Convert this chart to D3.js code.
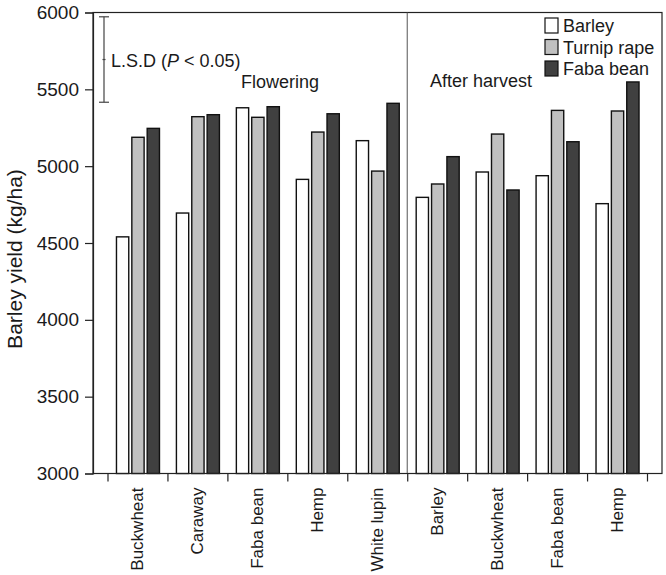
<!DOCTYPE html>
<html>
<head>
<meta charset="utf-8">
<script src="https://cdn.jsdelivr.net/npm/d3@7"></script>
<style>
  html, body { margin: 0; padding: 0; background: #fff; }
  svg { display: block; }
  text { font-family: Arial, "Liberation Sans", sans-serif; fill: #1a1a1a; }
</style>
</head>
<body>
<svg id="chart" width="666" height="575"></svg>
<script>
// ---- data ----
const categories = ["Buckwheat", "Caraway", "Faba bean", "Hemp", "White lupin",
                    "Barley", "Buckwheat", "Faba bean", "Hemp"];
const series = ["Barley", "Turnip rape", "Faba bean"];
const barleyValues = [4540, 4695, 5380, 4914, 5166, 4797, 4962, 4938, 4756];
const turnipValues = [5188, 5322, 5318, 5222, 4968, 4884, 5209, 5363, 5359];
const fabaValues   = [5246, 5335, 5387, 5341, 5409, 5062, 4845, 5159, 5548];
const yTicks = [3000, 3500, 4000, 4500, 5000, 5500, 6000];
const lsdRange = [5416, 5972];
const colors = ["#ffffff", "#c0c0c0", "#404040"];

const valuesBySeries = [barleyValues, turnipValues, fabaValues];

// ---- layout ----
const svg = d3.select("#chart");
const pLeft = 93, pRight = 662, pTop = 12.5, pBottom = 473.5;

const y = d3.scaleLinear().domain([3000, 6000]).range([pBottom, pTop]);
const xB = d3.scaleLinear().domain([0, 9]).range([107.5, 647]);
const inner = d3.scaleBand().domain(series).range([-21, 22]).paddingInner(0.2);

// frame
svg.append("rect")
  .attr("x", pLeft).attr("y", pTop)
  .attr("width", pRight - pLeft).attr("height", pBottom - pTop)
  .attr("fill", "none").attr("stroke", "#222").attr("stroke-width", 1.2);

// divider between Flowering and After harvest
svg.append("line")
  .attr("x1", xB(5)).attr("x2", xB(5))
  .attr("y1", pTop).attr("y2", pBottom)
  .attr("stroke", "#555").attr("stroke-width", 1);

// bars
const barData = [];
categories.forEach((c, i) => {
  series.forEach((s, j) => {
    barData.push({i, s, j, v: valuesBySeries[j][i]});
  });
});
svg.append("g").selectAll("rect").data(barData).join("rect")
  .attr("x", d => xB(d.i + 0.5) + inner(d.s))
  .attr("width", inner.bandwidth())
  .attr("y", d => y(d.v))
  .attr("height", d => y(3000) - y(d.v))
  .attr("fill", d => colors[d.j])
  .attr("stroke", "#111").attr("stroke-width", 1.4);

// y axis
const yAxis = svg.append("g").attr("transform", `translate(${pLeft},0)`)
  .call(d3.axisLeft(y).tickValues(yTicks).tickSize(8).tickPadding(6).tickFormat(d3.format("d")));
yAxis.select(".domain").attr("stroke", "#222").attr("stroke-width", 1.2);
yAxis.selectAll(".tick line").attr("stroke", "#222").attr("stroke-width", 1.2);
yAxis.selectAll("text").attr("font-size", 19).attr("fill", "#1a1a1a")
  .style("font-family", "Arial, 'Liberation Sans', sans-serif");

// x axis: ticks at category boundaries
const xAxis = svg.append("g").attr("transform", `translate(0,${pBottom})`)
  .call(d3.axisBottom(xB).tickValues(d3.range(0, 10)).tickSize(8).tickFormat(""));
xAxis.select(".domain").remove();
xAxis.selectAll(".tick line").attr("stroke", "#222").attr("stroke-width", 1.2);
svg.append("line").attr("x1", pLeft).attr("x2", pRight).attr("y1", pBottom).attr("y2", pBottom)
  .attr("stroke", "#222").attr("stroke-width", 1.2);

// x labels
svg.append("g").selectAll("text").data(categories).join("text")
  .attr("transform", (d, i) => `translate(${xB(i + 0.5)},${pBottom + 14}) rotate(-90)`)
  .attr("text-anchor", "end")
  .attr("dy", "0.35em")
  .attr("font-size", 17)
  .text(d => d);

// y title
svg.append("text")
  .attr("transform", `translate(22,259) rotate(-90)`)
  .attr("text-anchor", "middle")
  .attr("font-size", 21)
  .text("Barley yield (kg/ha)");

// LSD bar
const lsdX = 104;
const lsd = svg.append("g").attr("stroke", "#444").attr("stroke-width", 1.2);
lsd.append("line").attr("x1", lsdX).attr("x2", lsdX).attr("y1", y(lsdRange[0])).attr("y2", y(lsdRange[1]));
lsd.append("line").attr("x1", lsdX - 5).attr("x2", lsdX + 5).attr("y1", y(lsdRange[0])).attr("y2", y(lsdRange[0]));
lsd.append("line").attr("x1", lsdX - 5).attr("x2", lsdX + 5).attr("y1", y(lsdRange[1])).attr("y2", y(lsdRange[1]));
lsd.append("line").attr("x1", lsdX - 1.5).attr("x2", lsdX + 1.5)
  .attr("y1", y((lsdRange[0] + lsdRange[1]) / 2)).attr("y2", y((lsdRange[0] + lsdRange[1]) / 2));

const lsdText = svg.append("text").attr("x", 111).attr("y", 66.5).attr("font-size", 18);
lsdText.append("tspan").text("L.S.D (");
lsdText.append("tspan").attr("font-style", "italic").text("P");
lsdText.append("tspan").text(" < 0.05)");

svg.append("text").attr("x", 241).attr("y", 87.5).attr("font-size", 18).text("Flowering");
svg.append("text").attr("x", 430).attr("y", 86.5).attr("font-size", 18).text("After harvest");

// legend
const leg = svg.append("g");
series.forEach((s, j) => {
  const cy = 25.5 + j * 21.5;
  leg.append("rect").attr("x", 545).attr("y", cy - 7.5).attr("width", 13).attr("height", 15)
    .attr("fill", colors[j]).attr("stroke", "#111").attr("stroke-width", 1.2);
  leg.append("text").attr("x", 563).attr("y", cy + 6.5).attr("font-size", 18).text(s);
});
</script>
</body>
</html>
